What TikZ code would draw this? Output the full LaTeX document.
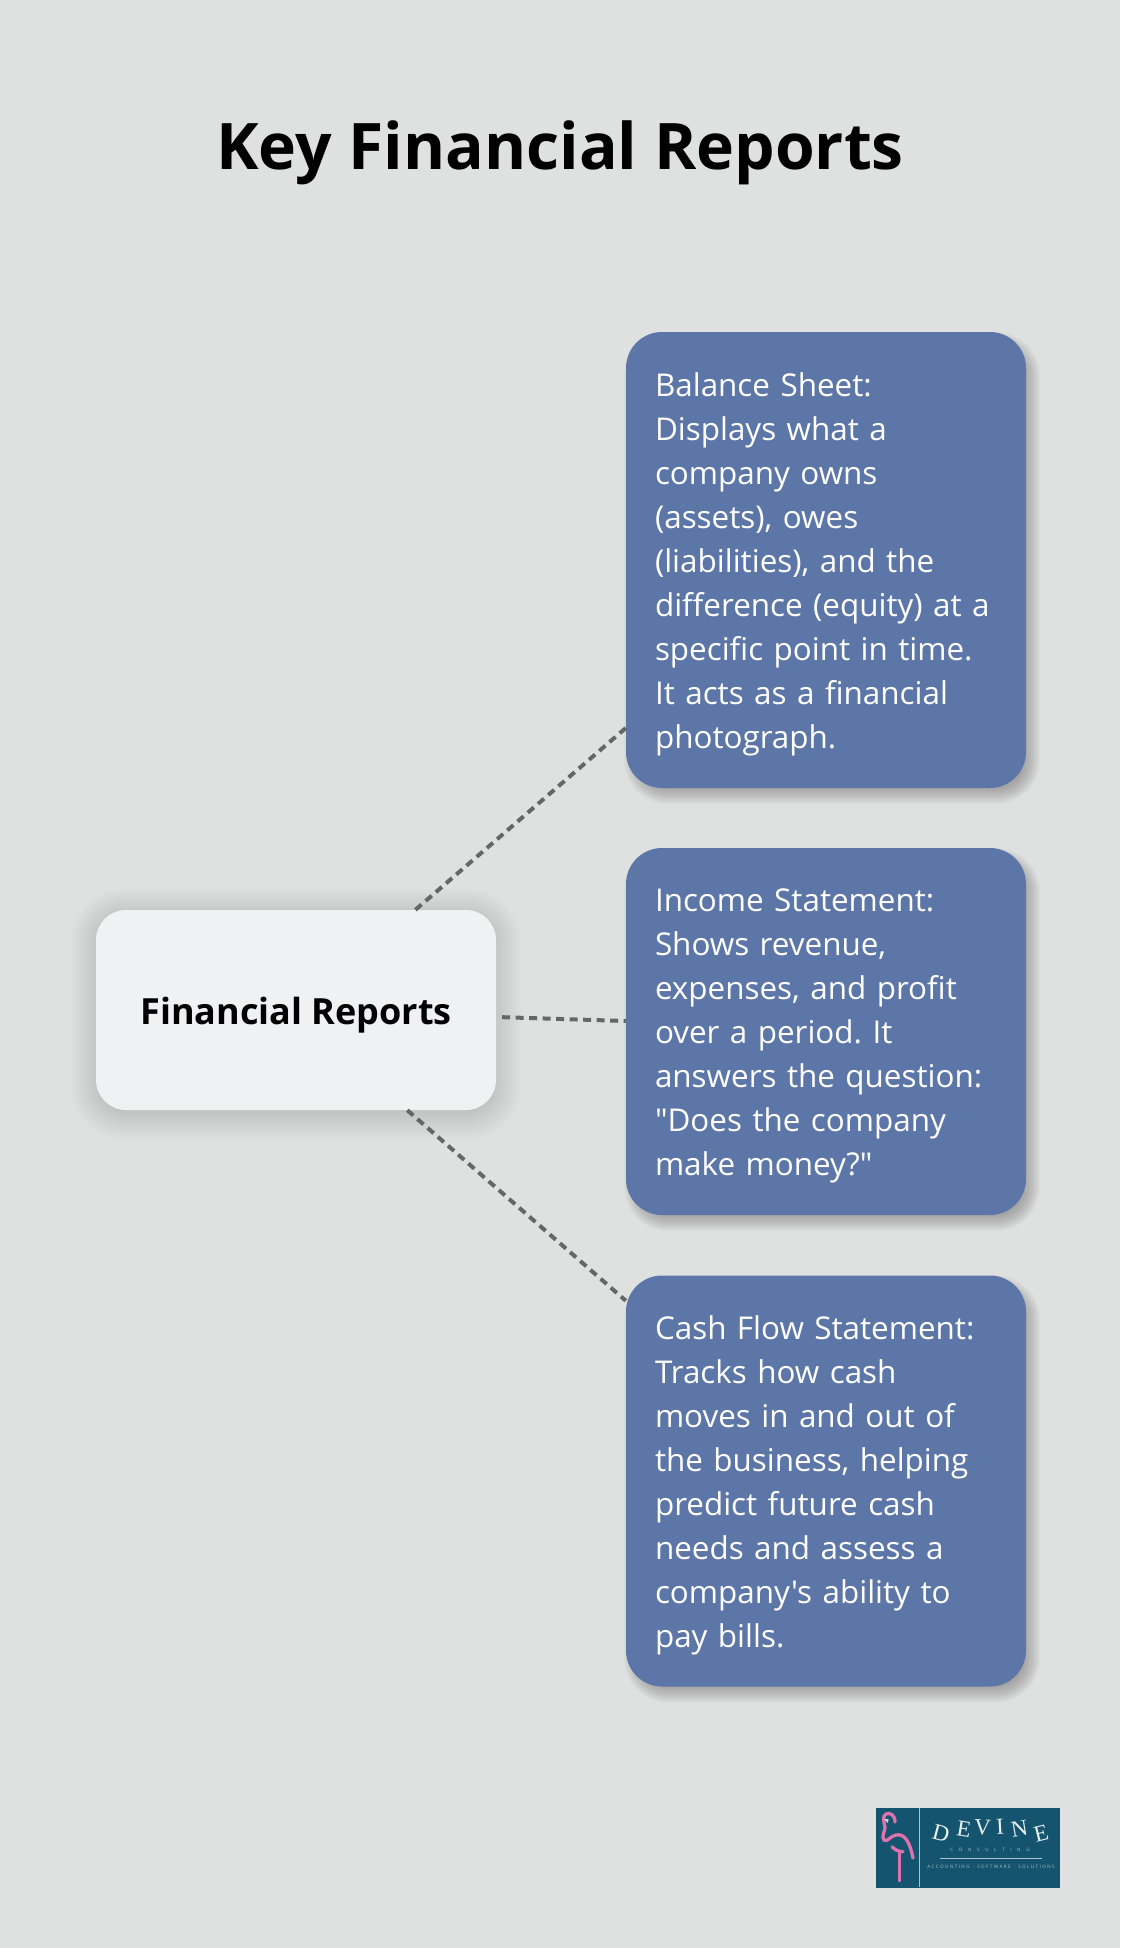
\documentclass[tikz,border=0pt]{standalone}
\usepackage{fontspec}
\newfontfamily\bodyfont{Open Sans}
\newfontfamily\logoserif{Liberation Serif}
\newfontfamily\logosans{Open Sans}
\usetikzlibrary{calc,backgrounds}
\definecolor{pagebg}{HTML}{DFE1E0}
\definecolor{bluebox}{HTML}{5D76A8}
\definecolor{lightbox}{HTML}{EFF1F3}
\definecolor{dashgrey}{HTML}{666666}
\definecolor{logobg}{HTML}{15546E}
\definecolor{logopink}{HTML}{DD72AE}
\definecolor{logoline}{HTML}{A9C4CC}
\definecolor{logotext}{HTML}{E8F0F2}
\newcommand{\firstline}{\rule{0pt}{32pt}}
\tikzset{
  bluenode/.style={rectangle,rounded corners=36pt,fill=bluebox,text=white,
    text width=342pt,inner xsep=29pt,inner ysep=0pt,align=left,
    font=\bodyfont\frenchspacing\fontsize{31.4}{44}\selectfont},
  centernode/.style={rectangle,rounded corners=30pt,fill=lightbox,text=black,
    minimum width=400pt,minimum height=200pt,inner sep=0pt,text height=37pt,text depth=8.6pt,
    font=\bodyfont\fontsize{36}{44}\selectfont\bfseries},
  titlenode/.style={text=black,inner sep=0pt,font=\bodyfont\fontsize{64.2}{72}\selectfont\bfseries},
  dashlink/.style={draw=dashgrey,line width=4pt,dash pattern=on 8pt off 5.5pt},
  logoletter/.style={text=logotext,inner sep=0pt,font=\logoserif\fontsize{23}{23}\selectfont},
  logosmall/.style={text=logoline,inner sep=0pt},
  flamingo/.style={draw=logopink,line width=3.3pt,line cap=round,line join=round},
}
\newcommand{\softshadow}[7]{% node, ox, oy, from, to, radius, opacity
  \foreach \ii in {#4,...,#5}{
    \pgfmathsetmacro{\rr}{max(#6+\ii,1)}
    \fill[black,opacity=#7,rounded corners=\rr pt]
      ($(#1.north west)+(#2-\ii,#3-\ii)$) rectangle ($(#1.south east)+(#2+\ii,#3+\ii)$);
  }
}
\begin{document}
\begin{tikzpicture}[x=1pt,y=-1pt]
\useasboundingbox (0,0) rectangle (1120,1948);
\node[titlenode] (title) at (560,153) {Key Financial Reports};
\node[centernode] (fin) at (296,1010) {Financial Reports};
\node[bluenode,minimum height=456pt] (bal) at (826,560) {\firstline Balance Sheet:\\Displays what a\\company owns\\(assets), owes\\(liabilities), and the\\difference (equity) at a\\specific point in time.\\It acts as a financial\\photograph.};
\node[bluenode,minimum height=367pt] (inc) at (826,1031.5) {\firstline Income Statement:\\Shows revenue,\\expenses, and profit\\over a period. It\\answers the question:\\"Does the company\\make money?"};
\node[bluenode,minimum height=411pt] (cash) at (826,1481) {\firstline Cash Flow Statement:\\Tracks how cash\\moves in and out of\\the business, helping\\predict future cash\\needs and assess a\\company's ability to\\pay bills.};
\begin{pgfonlayer}{background}
  \fill[pagebg] (0,0) rectangle (1120,1948);
  \softshadow{fin}{0}{4}{26}{-4}{30}{0.0036}
  \softshadow{bal}{6}{8}{8}{-8}{36}{0.017}
  \softshadow{inc}{6}{8}{8}{-8}{36}{0.017}
  \softshadow{cash}{6}{8}{8}{-8}{36}{0.017}
\end{pgfonlayer}
\draw[dashlink] (fin.40.3) -- (bal.220.4);
\draw[dashlink,shorten <=6pt] (fin.-2.3) -- (inc.177.7);
\draw[dashlink] (fin.-42.5) -- (cash.138.25);
% logo
\fill[logobg] (876,1808) rectangle (1060,1888);
\draw[logoline,line width=0.7pt] (919.5,1808) -- (919.5,1887);
\draw[flamingo] (895,1822) .. controls (895,1815) and (890,1812) .. (886,1814) .. controls (882,1816) and (884,1822) .. (885,1827) .. controls (885,1832) and (881,1836) .. (884,1840) .. controls (887,1843) and (890,1836) .. (896,1835) .. controls (905,1833) and (910,1843) .. (913,1858);
\draw[flamingo] (892,1846.7) .. controls (895,1850) and (899,1851.7) .. (903,1851.7);
\draw[flamingo] (899.3,1851.7) -- (899.3,1880.7);
\fill[logoline!70!white] (884,1819) -- (888.5,1819) -- (888,1823) -- cycle;
\node[logoletter,rotate=-15] (d1) at (941,1833.5) {D};
\node[logoletter,rotate=-9] (d2) at (964,1829) {E};
\node[logoletter,rotate=-3] (d3) at (982.5,1827.5) {V};
\node[logoletter,rotate=3] (d4) at (1000,1826.5) {I};
\node[logoletter,rotate=9] (d5) at (1019.5,1829) {N};
\node[logoletter,rotate=14] (d6) at (1041,1833) {E};
\node[logosmall,font=\logosans\fontsize{4.6}{5}\selectfont] (d7) at (990,1849.5) {C\hspace{5.6pt}O\hspace{5.6pt}N\hspace{5.6pt}S\hspace{5.6pt}U\hspace{5.6pt}L\hspace{5.6pt}T\hspace{5.6pt}I\hspace{5.6pt}N\hspace{5.6pt}G};
\draw[logoline,line width=0.5pt] (940,1858.5) -- (1041.5,1858.5);
\node[logosmall,font=\logosans\fontsize{4.6}{5}\selectfont] (d8) at (991,1866.5) {A\hspace{1.4pt}C\hspace{1.4pt}C\hspace{1.4pt}O\hspace{1.4pt}U\hspace{1.4pt}N\hspace{1.4pt}T\hspace{1.4pt}I\hspace{1.4pt}N\hspace{1.4pt}G\hspace{2pt} · \hspace{2pt}S\hspace{1.4pt}O\hspace{1.4pt}F\hspace{1.4pt}T\hspace{1.4pt}W\hspace{1.4pt}A\hspace{1.4pt}R\hspace{1.4pt}E\hspace{2pt} · \hspace{2pt}S\hspace{1.4pt}O\hspace{1.4pt}L\hspace{1.4pt}U\hspace{1.4pt}T\hspace{1.4pt}I\hspace{1.4pt}O\hspace{1.4pt}N\hspace{1.4pt}S};
\end{tikzpicture}
\end{document}
